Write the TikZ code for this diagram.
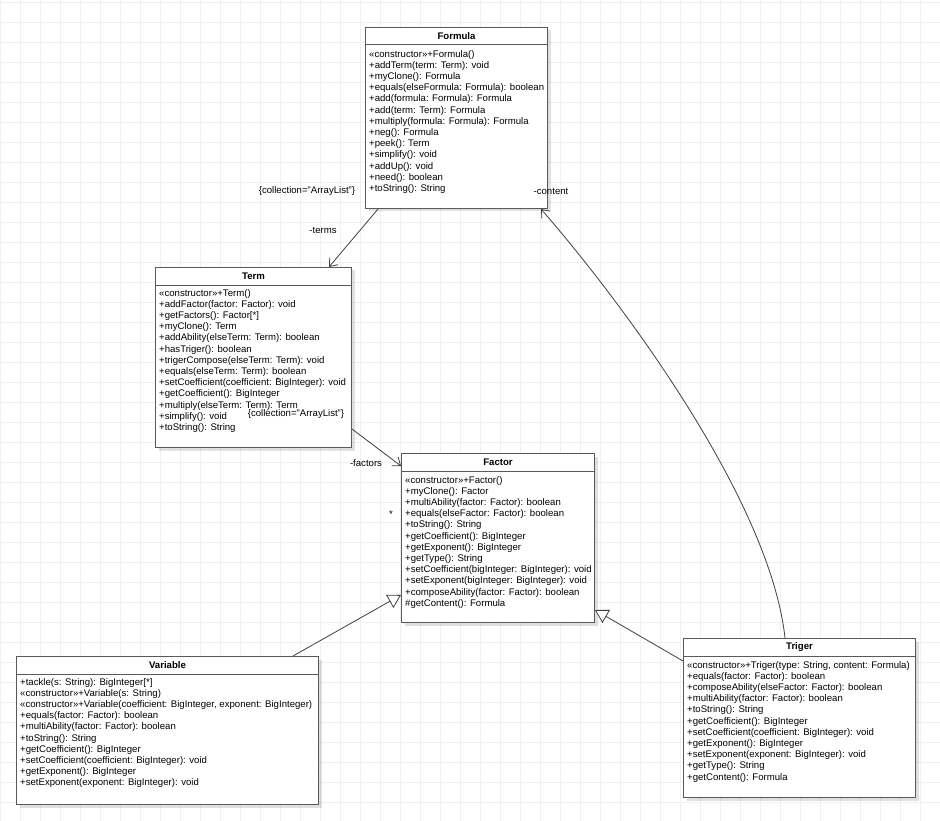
\documentclass[tikz,border=0pt]{standalone}
\usepackage{fontspec}
\setmainfont{Liberation Sans}
\usetikzlibrary{arrows.meta,shadows}

\begin{document}
\begin{tikzpicture}[x=1pt, y=-1pt,
        font=\fontsize{9.6}{11.2}\selectfont,
        gridline/.style={draw=black!6, line width=0.8pt},
        classbox/.style={draw=black!65, line width=1pt, fill=white, anchor=north west, inner sep=0pt,
          drop shadow={shadow xshift=3pt, shadow yshift=-3pt, fill=black, opacity=0.12}},
        classline/.style={draw=black!65, line width=1pt},
        classname/.style={font=\fontsize{9.6}{11.2}\selectfont\bfseries, inner sep=0pt},
        classops/.style={anchor=north west, align=left, inner sep=0pt},
        edgelabel/.style={inner sep=0pt},
        assoc/.style={draw=black!75, line width=0.8pt, -{Straight Barb[length=7pt, width=11pt]}},
        inherit/.style={draw=black!75, line width=0.8pt, -{Triangle[open, length=13pt, width=15pt, fill=white]}}]
        \fill[white] (0,0) rectangle (940,821);
        \useasboundingbox (0,0) rectangle (940,821);
        \foreach \gx in {0,20,...,940} {
          \draw[gridline] (\gx,0) -- (\gx,821);
        };
        \foreach \gy in {2,22,...,821} {
          \draw[gridline] (0,\gy) -- (940,\gy);
        };

        % Formula
        \node[classbox, minimum width=182pt, minimum height=181pt] (formula) at (365,27) {};
        \draw[classline] ([yshift=-18pt]formula.north west) -- ([yshift=-18pt]formula.north east);
        \node[classname] (formula-name) at ([yshift=-9pt]formula.north) {Formula};
        \node[classops] (formula-ops) at ([xshift=4pt,yshift=-23pt]formula.north west) {%
          «constructor»+Formula()\\
          +addTerm(term: Term): void\\
          +myClone(): Formula\\
          +equals(elseFormula: Formula): boolean\\
          +add(formula: Formula): Formula\\
          +add(term: Term): Formula\\
          +multiply(formula: Formula): Formula\\
          +neg(): Formula\\
          +peek(): Term\\
          +simplify(): void\\
          +addUp(): void\\
          +need(): boolean\\
          +toString(): String};

        % Term
        \node[classbox, minimum width=196pt, minimum height=180pt] (term) at (155,267) {};
        \draw[classline] ([yshift=-18pt]term.north west) -- ([yshift=-18pt]term.north east);
        \node[classname] (term-name) at ([yshift=-9pt]term.north) {Term};
        \node[classops] (term-ops) at ([xshift=4pt,yshift=-22pt]term.north west) {%
          «constructor»+Term()\\
          +addFactor(factor: Factor): void\\
          +getFactors(): Factor[*]\\
          +myClone(): Term\\
          +addAbility(elseTerm: Term): boolean\\
          +hasTriger(): boolean\\
          +trigerCompose(elseTerm: Term): void\\
          +equals(elseTerm: Term): boolean\\
          +setCoefficient(coefficient: BigInteger): void\\
          +getCoefficient(): BigInteger\\
          +multiply(elseTerm: Term): Term\\
          +simplify(): void\\
          +toString(): String};

        % Factor
        \node[classbox, minimum width=193pt, minimum height=169pt] (factor) at (401,453) {};
        \draw[classline] ([yshift=-18pt]factor.north west) -- ([yshift=-18pt]factor.north east);
        \node[classname] (factor-name) at ([yshift=-9pt]factor.north) {Factor};
        \node[classops] (factor-ops) at ([xshift=4pt,yshift=-23pt]factor.north west) {%
          «constructor»+Factor()\\
          +myClone(): Factor\\
          +multiAbility(factor: Factor): boolean\\
          +equals(elseFactor: Factor): boolean\\
          +toString(): String\\
          +getCoefficient(): BigInteger\\
          +getExponent(): BigInteger\\
          +getType(): String\\
          +setCoefficient(bigInteger: BigInteger): void\\
          +setExponent(bigInteger: BigInteger): void\\
          +composeAbility(factor: Factor): boolean\\
          \#getContent(): Formula};

        % Variable
        \node[classbox, minimum width=302pt, minimum height=148pt] (variable) at (16,656) {};
        \draw[classline] ([yshift=-18pt]variable.north west) -- ([yshift=-18pt]variable.north east);
        \node[classname] (variable-name) at ([yshift=-9pt]variable.north) {Variable};
        \node[classops] (variable-ops) at ([xshift=4pt,yshift=-22pt]variable.north west) {%
          +tackle(s: String): BigInteger[*]\\
          «constructor»+Variable(s: String)\\
          «constructor»+Variable(coefficient: BigInteger, exponent: BigInteger)\\
          +equals(factor: Factor): boolean\\
          +multiAbility(factor: Factor): boolean\\
          +toString(): String\\
          +getCoefficient(): BigInteger\\
          +setCoefficient(coefficient: BigInteger): void\\
          +getExponent(): BigInteger\\
          +setExponent(exponent: BigInteger): void};

        % Triger
        \node[classbox, minimum width=232pt, minimum height=159pt] (triger) at (683,638) {};
        \draw[classline] ([yshift=-18pt]triger.north west) -- ([yshift=-18pt]triger.north east);
        \node[classname] (triger-name) at ([yshift=-9pt]triger.north) {Triger};
        \node[classops] (triger-ops) at ([xshift=4pt,yshift=-23pt]triger.north west) {%
          «constructor»+Triger(type: String, content: Formula)\\
          +equals(factor: Factor): boolean\\
          +composeAbility(elseFactor: Factor): boolean\\
          +multiAbility(factor: Factor): boolean\\
          +toString(): String\\
          +getCoefficient(): BigInteger\\
          +setCoefficient(coefficient: BigInteger): void\\
          +getExponent(): BigInteger\\
          +setExponent(exponent: BigInteger): void\\
          +getType(): String\\
          +getContent(): Formula};

        % associations
        \draw[assoc] ([xshift=13pt]formula.south west) -- ([xshift=174pt]term.north west);
        \draw[assoc] ([yshift=-162pt]term.north east) -- ([yshift=-13pt]factor.north west);
        \draw[assoc] ([xshift=102pt]triger.north west) .. controls +(-15,-138) and +(80,92) .. ([xshift=-7pt]formula.south east);
        \node[edgelabel] (terms-coll) at (307,191) {\{collection="ArrayList"\}};
        \node[edgelabel] (terms-role) at (323,230) {-terms};
        \node[edgelabel, font=\fontsize{7}{8}\selectfont] (terms-mult) at (278,380) {*};
        \node[edgelabel] (factors-coll) at (296,414) {\{collection="ArrayList"\}};
        \node[edgelabel] (factors-role) at (366,463) {-factors};
        \node[edgelabel] (factors-mult) at (391,514) {*};
        \node[edgelabel] (content-role) at (551,191) {-content};

        % generalizations
        \draw[inherit] ([xshift=277pt]variable.north west) -- ([yshift=28pt]factor.south west);
        \draw[inherit] ([yshift=-23pt]triger.north west) -- ([yshift=13pt]factor.south east);
      \end{tikzpicture}
\end{document}
